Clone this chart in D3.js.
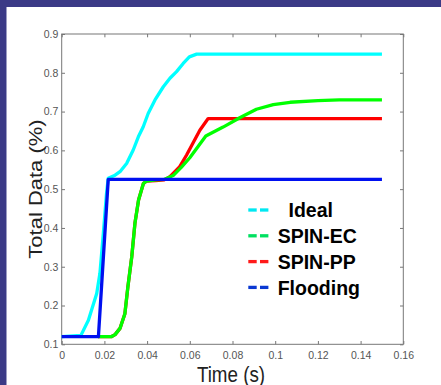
<!DOCTYPE html>
<html>
<head>
<meta charset="utf-8">
<script src="https://cdn.jsdelivr.net/npm/d3@7"></script>
<style>
  html, body { margin: 0; padding: 0; background: #3b3a86; }
  svg { display: block; }
</style>
</head>
<body>
<svg></svg>
<script>
var width = 441;
var height = 385;

// tick values and labels
var xTicks = [0, 0.02, 0.04, 0.06, 0.08, 0.1, 0.12, 0.14, 0.16];
var xTickLabels = ["0", "0.02", "0.04", "0.06", "0.08", "0.1", "0.12", "0.14", "0.16"];
var yTicks = [0.1, 0.2, 0.3, 0.4, 0.5, 0.6, 0.7, 0.8, 0.9];
var yTickLabels = ["0.1", "0.2", "0.3", "0.4", "0.5", "0.6", "0.7", "0.8", "0.9"];

// series: [time, total data]
var ideal = [[0, 0.12], [0.009, 0.123], [0.0125, 0.162], [0.0164, 0.231], [0.0179, 0.283],
  [0.0195, 0.386], [0.021, 0.489], [0.0218, 0.528], [0.025, 0.536], [0.0273, 0.545],
  [0.0304, 0.566], [0.0335, 0.601], [0.0359, 0.635], [0.0382, 0.661], [0.0405, 0.695],
  [0.0437, 0.730], [0.0476, 0.764], [0.0507, 0.786], [0.0538, 0.803], [0.0569, 0.824],
  [0.0598, 0.841], [0.0632, 0.848], [0.15, 0.848]];

var spinEC = [[0.017, 0.12], [0.0234, 0.12], [0.025, 0.125], [0.0273, 0.141], [0.0296, 0.179],
  [0.031, 0.248], [0.0328, 0.325], [0.0343, 0.412], [0.036, 0.472], [0.0383, 0.515],
  [0.0398, 0.521], [0.044, 0.524], [0.048, 0.525], [0.0522, 0.535], [0.056, 0.556],
  [0.060, 0.581], [0.0675, 0.637], [0.0756, 0.660], [0.0834, 0.684], [0.0912, 0.706],
  [0.0991, 0.718], [0.107, 0.724], [0.12, 0.728], [0.13, 0.73], [0.15, 0.73]];

var spinPP = [[0.017, 0.12], [0.0234, 0.12], [0.025, 0.125], [0.0273, 0.141], [0.0296, 0.179],
  [0.031, 0.248], [0.0328, 0.325], [0.0343, 0.412], [0.036, 0.472], [0.0383, 0.515],
  [0.0398, 0.521], [0.044, 0.522], [0.048, 0.524], [0.0507, 0.532], [0.0553, 0.558],
  [0.0585, 0.588], [0.0647, 0.652], [0.0686, 0.682], [0.15, 0.682]];

var flooding = [[0, 0.12], [0.0172, 0.12], [0.0218, 0.525], [0.15, 0.525]];

var seriesNames = ["  Ideal", "SPIN-EC", "SPIN-PP", "Flooding"];
var seriesData = [ideal, spinEC, spinPP, flooding];
var lineColors = ["#00ffff", "#00ff00", "#ff0000", "#0010f0"];
var legendColors = ["#00e8f2", "#00e060", "#ff1a1a", "#0a38d2"];
var drawOrder = [0, 2, 1, 3];

var svg = d3.select('svg')
  .attr('width', width)
  .attr('height', height);

// white panel inside the dark border
svg.append('rect')
  .attr('x', 6.5)
  .attr('y', 7)
  .attr('width', width - 6.5)
  .attr('height', height - 7)
  .attr('fill', '#fff');

var x = d3.scaleLinear().domain([0, 0.16]).range([61.7, 403.3]);
var y = d3.scaleLinear().domain([0.1, 0.9]).range([344.3, 34]);

var tickFont = "'Liberation Sans', Arial, sans-serif";

function styleAxis(g) {
  g.select('.domain').remove();
  g.selectAll('line').attr('stroke', '#777');
  g.selectAll('text')
    .attr('fill', '#555')
    .style('font-family', tickFont)
    .style('font-size', '10.5px');
}

svg.append('g')
  .attr('transform', 'translate(0,' + y(0.1) + ')')
  .call(d3.axisBottom(x).tickValues(xTicks)
    .tickFormat((d, i) => xTickLabels[i])
    .tickSizeInner(-3.3).tickSizeOuter(0).tickPadding(7))
  .call(styleAxis);

svg.append('g')
  .attr('transform', 'translate(0,' + y(0.9) + ')')
  .call(d3.axisTop(x).tickValues(xTicks).tickFormat('')
    .tickSizeInner(-3.3).tickSizeOuter(0))
  .call(styleAxis);

svg.append('g')
  .attr('transform', 'translate(' + x(0) + ',0)')
  .call(d3.axisLeft(y).tickValues(yTicks)
    .tickFormat((d, i) => yTickLabels[i])
    .tickSizeInner(-3.3).tickSizeOuter(0).tickPadding(3.4))
  .call(styleAxis);

svg.append('g')
  .attr('transform', 'translate(' + x(0.16) + ',0)')
  .call(d3.axisRight(y).tickValues(yTicks).tickFormat('')
    .tickSizeInner(-3.3).tickSizeOuter(0))
  .call(styleAxis);

// plot frame
svg.append('rect')
  .attr('x', x(0))
  .attr('y', y(0.9))
  .attr('width', x(0.16) - x(0))
  .attr('height', y(0.1) - y(0.9))
  .attr('fill', 'none')
  .attr('stroke', '#777')
  .attr('stroke-width', 1);

var line = d3.line()
  .x(d => x(d[0]))
  .y(d => y(d[1]));

drawOrder.forEach(function(i) {
  svg.append('path')
    .datum(seriesData[i])
    .attr('d', line)
    .attr('fill', 'none')
    .attr('stroke', lineColors[i])
    .attr('stroke-width', 3.3)
    .attr('stroke-linejoin', 'round');
});

// axis titles
svg.append('text')
  .text('Time (s)')
  .attr('transform', 'translate(231,381.5) scale(1,1.17)')
  .attr('text-anchor', 'middle')
  .attr('fill', '#222')
  .style('font-family', tickFont)
  .style('font-size', '18.8px');

svg.append('text')
  .text('Total Data (%)')
  .attr('transform', 'translate(41.7,189) rotate(-90) scale(1.17,1)')
  .attr('text-anchor', 'middle')
  .attr('fill', '#222')
  .style('font-family', tickFont)
  .style('font-size', '18.8px');

// legend
var legend = svg.append('g');
seriesNames.forEach(function(name, i) {
  var ly = 210 + i * 25.8;
  [248.3, 260].forEach(function(dx) {
    legend.append('line')
      .attr('x1', dx).attr('x2', dx + 8.4)
      .attr('y1', ly).attr('y2', ly)
      .attr('stroke', legendColors[i])
      .attr('stroke-width', 3.3);
  });
  legend.append('text')
    .text(name)
    .attr('transform', 'translate(277.7,' + (ly + 7.3) + ') scale(1,1.07)')
    .style('white-space', 'pre')
    .attr('fill', '#000')
    .style('font-family', tickFont)
    .style('font-weight', 'bold')
    .style('font-size', '19.5px');
});
</script>
</body>
</html>
